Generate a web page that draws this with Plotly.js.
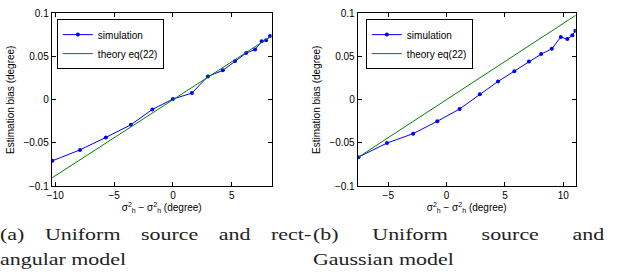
<!DOCTYPE html>
<html>
<head>
<meta charset="utf-8">
<script src="https://cdn.plot.ly/plotly-3.0.1.min.js"></script>
<style>
  html, body { margin: 0; padding: 0; background: #fff; overflow: hidden; }
  #wrap { position: relative; width: 618px; height: 273px; }
  #plot { position: absolute; left: 0; top: 0; width: 618px; height: 273px; }
  .cap { position: absolute; font-family: "Liberation Serif", "Times New Roman", serif; font-size: 16.5px;
         line-height: 24px; color: #222; white-space: nowrap; transform: scaleX(1.33); transform-origin: left top; }
  .just { text-align: justify; text-align-last: justify; }
</style>
</head>
<body>
<div id="wrap">
  <div id="plot"></div>
  <div class="cap just" style="left:0px; top:223px; width:234px;">(a) Uniform source and rect-</div>
  <div class="cap" style="left:0px; top:248px;">angular model</div>
  <div class="cap just" style="left:313px; top:223px; width:219px;">(b) Uniform source and</div>
  <div class="cap" style="left:313px; top:248px;">Gaussian model</div>
</div>
<script>
// (a) Uniform source and rectangular model
const simA_x = [-10.25, -7.9, -5.7, -3.58, -1.75, 0.0, 1.61, 2.97, 4.24, 5.28, 6.22, 6.98, 7.54, 7.91, 8.25];
const simA_y = [-0.0707, -0.058, -0.0436, -0.029, -0.0112, 0.0008, 0.0077, 0.027, 0.034, 0.0448, 0.054, 0.058, 0.0676, 0.0687, 0.0737];
const theoA_x = [-10.25, 8.39];
const theoA_y = [-0.0902, 0.0738];

// (b) Uniform source and Gaussian model
const simB_x = [-7.56, -5.11, -2.87, -0.80, 1.11, 2.84, 4.4, 5.8, 7.05, 8.1, 9.01, 9.78, 10.34, 10.77, 11.03];
const simB_y = [-0.0664, -0.0501, -0.0392, -0.0249, -0.0107, 0.0064, 0.0211, 0.0331, 0.0443, 0.0528, 0.0589, 0.0725, 0.0702, 0.0745, 0.0798];
const theoB_x = [-7.56, 11.06];
const theoB_y = [-0.0664, 0.0977];

const rangeA_x = [-10.3, 8.39];
const rangeB_x = [-7.62, 11.06];
const range_y = [-0.1, 0.1];
const xticksA = [-10, -5, 0, 5];
const xticksB = [-5, 0, 5, 10];
const yticks = [-0.1, -0.05, 0, 0.05, 0.1];
const yticktext = ['\u22120.1', '\u22120.05', '0', '0.05', '0.1'];

const names = ['simulation', 'theory eq(22)'];
const xTitle = '\u03c3<sup>2</sup><sub>h</sub> \u2212 \u03c3<sup>2</sup><sub>h</sub> (degree)';
const yTitle = 'Estimation bias (degree)';

const blue = '#0000ff', green = '#008000';
const font = {family: 'Liberation Sans, Arial, sans-serif', size: 10, color: '#000'};

const traces = [
  {x: simA_x, y: simA_y, name: names[0], mode: 'lines+markers', xaxis: 'x', yaxis: 'y', legend: 'legend',
   line: {color: blue, width: 1}, marker: {color: blue, size: 4, symbol: 'circle'}},
  {x: theoA_x, y: theoA_y, name: names[1], mode: 'lines', xaxis: 'x', yaxis: 'y', legend: 'legend',
   line: {color: green, width: 1}},
  {x: simB_x, y: simB_y, name: names[0], mode: 'lines+markers', xaxis: 'x2', yaxis: 'y2', legend: 'legend2',
   line: {color: blue, width: 1}, marker: {color: blue, size: 4, symbol: 'circle'}},
  {x: theoB_x, y: theoB_y, name: names[1], mode: 'lines', xaxis: 'x2', yaxis: 'y2', legend: 'legend2',
   line: {color: green, width: 1}}
];

function xax(domain, range, ticks, anchor) {
  return {domain: domain, range: range, anchor: anchor, tickvals: ticks,
    ticktext: ticks.map(v => v < 0 ? '\u2212' + Math.abs(v) : String(v)),
    ticks: 'inside', ticklen: 4, tickwidth: 1, tickcolor: '#000', showline: true, linecolor: '#000', linewidth: 1,
    mirror: 'ticks', showgrid: false, zeroline: false, tickfont: font,
    title: {text: xTitle, font: font, standoff: 0}};
}
function yax(domain, anchor) {
  return {domain: domain, range: range_y, tickvals: yticks, ticktext: yticktext, anchor: anchor,
    ticks: 'inside', ticklen: 4, tickwidth: 1, tickcolor: '#000', showline: true, linecolor: '#000', linewidth: 1,
    mirror: 'ticks', showgrid: false, zeroline: false, tickfont: font,
    title: {text: yTitle, font: font, standoff: 6}};
}

const legendStyle = (x) => ({x: x, y: 0.93, xanchor: 'left', yanchor: 'top', bgcolor: '#fff', bordercolor: '#000',
  borderwidth: 1, font: font, itemwidth: 30, tracegroupgap: 0, xref: 'paper', yref: 'paper'});

const layout = {
  width: 618, height: 273,
  margin: {l: 0, r: 0, t: 0, b: 0},
  paper_bgcolor: '#fff', plot_bgcolor: '#fff',
  font: font,
  showlegend: true,
  xaxis: xax([0.0837, 0.4396], rangeA_x, xticksA, 'y'),
  yaxis: yax([0.318, 0.9513], 'x'),
  xaxis2: xax([0.5788, 0.9316], rangeB_x, xticksB, 'y2'),
  yaxis2: yax([0.318, 0.9513], 'x2'),
  legend: legendStyle(0.092),
  legend2: legendStyle(0.592)
};

Plotly.newPlot('plot', traces, layout, {staticPlot: true, displayModeBar: false});
</script>
</body>
</html>
